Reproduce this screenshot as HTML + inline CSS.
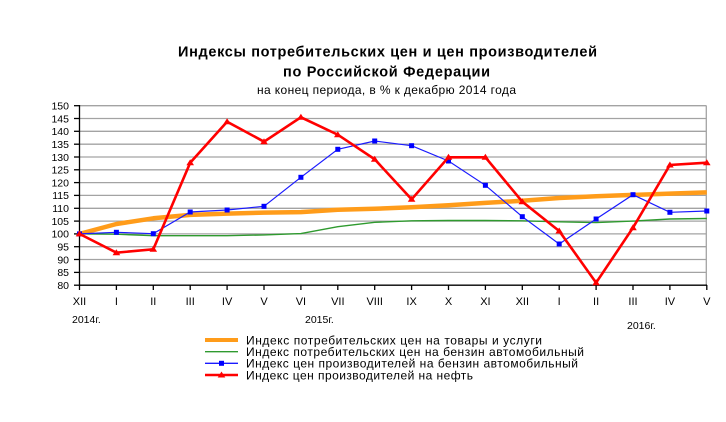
<!DOCTYPE html>
<html><head><meta charset="utf-8"><style>
html,body{margin:0;padding:0;background:#fff;}
svg{display:block;font-family:"Liberation Sans",Arial,sans-serif;}
</style></head><body>
<svg width="726" height="422" viewBox="0 0 726 422" xmlns="http://www.w3.org/2000/svg">
<rect width="726" height="422" fill="#fff"/>
<!-- titles -->
<text x="178" y="56.5" font-size="14.5" font-weight="bold" textLength="419" lengthAdjust="spacing" fill="#000">Индексы потребительских цен и цен производителей</text>
<text x="283" y="76.5" font-size="14.5" font-weight="bold" textLength="207" lengthAdjust="spacing" fill="#000">по Российской Федерации</text>
<text x="257" y="94" font-size="12" textLength="259" lengthAdjust="spacing" fill="#000">на конец периода, в % к декабрю 2014 года</text>

<!-- gridlines -->
<g stroke="#a3a3a3" stroke-width="1.3">
<line x1="79.5" y1="105.7" x2="706.5" y2="105.7"/>
<line x1="79.5" y1="118.5" x2="706.5" y2="118.5"/>
<line x1="79.5" y1="131.3" x2="706.5" y2="131.3"/>
<line x1="79.5" y1="144.2" x2="706.5" y2="144.2"/>
<line x1="79.5" y1="157.0" x2="706.5" y2="157.0"/>
<line x1="79.5" y1="169.8" x2="706.5" y2="169.8"/>
<line x1="79.5" y1="182.6" x2="706.5" y2="182.6"/>
<line x1="79.5" y1="195.4" x2="706.5" y2="195.4"/>
<line x1="79.5" y1="208.3" x2="706.5" y2="208.3"/>
<line x1="79.5" y1="221.1" x2="706.5" y2="221.1"/>
<line x1="79.5" y1="233.9" x2="706.5" y2="233.9"/>
<line x1="79.5" y1="246.7" x2="706.5" y2="246.7"/>
<line x1="79.5" y1="259.5" x2="706.5" y2="259.5"/>
<line x1="79.5" y1="272.4" x2="706.5" y2="272.4"/>
<line x1="706.3" y1="105.7" x2="706.3" y2="285.2"/>
</g>
<!-- axes -->
<g stroke="#000" stroke-width="1.3">
<line x1="79.5" y1="105" x2="79.5" y2="285.2"/>
<line x1="79" y1="285.2" x2="707" y2="285.2"/>
<line x1="74" y1="105.7" x2="79.5" y2="105.7"/>
<line x1="74" y1="118.5" x2="79.5" y2="118.5"/>
<line x1="74" y1="131.3" x2="79.5" y2="131.3"/>
<line x1="74" y1="144.2" x2="79.5" y2="144.2"/>
<line x1="74" y1="157.0" x2="79.5" y2="157.0"/>
<line x1="74" y1="169.8" x2="79.5" y2="169.8"/>
<line x1="74" y1="182.6" x2="79.5" y2="182.6"/>
<line x1="74" y1="195.4" x2="79.5" y2="195.4"/>
<line x1="74" y1="208.3" x2="79.5" y2="208.3"/>
<line x1="74" y1="221.1" x2="79.5" y2="221.1"/>
<line x1="74" y1="233.9" x2="79.5" y2="233.9"/>
<line x1="74" y1="246.7" x2="79.5" y2="246.7"/>
<line x1="74" y1="259.5" x2="79.5" y2="259.5"/>
<line x1="74" y1="272.4" x2="79.5" y2="272.4"/>
<line x1="74" y1="285.2" x2="79.5" y2="285.2"/>
<line x1="79.5" y1="285" x2="79.5" y2="290"/>
<line x1="116.4" y1="285" x2="116.4" y2="290"/>
<line x1="153.3" y1="285" x2="153.3" y2="290"/>
<line x1="190.2" y1="285" x2="190.2" y2="290"/>
<line x1="227.1" y1="285" x2="227.1" y2="290"/>
<line x1="264.0" y1="285" x2="264.0" y2="290"/>
<line x1="300.9" y1="285" x2="300.9" y2="290"/>
<line x1="337.8" y1="285" x2="337.8" y2="290"/>
<line x1="374.7" y1="285" x2="374.7" y2="290"/>
<line x1="411.6" y1="285" x2="411.6" y2="290"/>
<line x1="448.5" y1="285" x2="448.5" y2="290"/>
<line x1="485.4" y1="285" x2="485.4" y2="290"/>
<line x1="522.3" y1="285" x2="522.3" y2="290"/>
<line x1="559.2" y1="285" x2="559.2" y2="290"/>
<line x1="596.1" y1="285" x2="596.1" y2="290"/>
<line x1="633.0" y1="285" x2="633.0" y2="290"/>
<line x1="669.9" y1="285" x2="669.9" y2="290"/>
<line x1="706.8" y1="285" x2="706.8" y2="290"/>
</g>
<!-- y labels -->
<g font-size="10.5" text-anchor="end" fill="#000">
<text x="69" y="109.5">150</text>
<text x="69" y="122.3">145</text>
<text x="69" y="135.1">140</text>
<text x="69" y="148.0">135</text>
<text x="69" y="160.8">130</text>
<text x="69" y="173.6">125</text>
<text x="69" y="186.4">120</text>
<text x="69" y="199.2">115</text>
<text x="69" y="212.1">110</text>
<text x="69" y="224.9">105</text>
<text x="69" y="237.7">100</text>
<text x="69" y="250.5">95</text>
<text x="69" y="263.3">90</text>
<text x="69" y="276.2">85</text>
<text x="69" y="289.0">80</text>
</g>
<!-- x labels -->
<g font-size="11" text-anchor="middle" fill="#000">
<text x="79.5" y="305">XII</text>
<text x="116.4" y="305">I</text>
<text x="153.3" y="305">II</text>
<text x="190.2" y="305">III</text>
<text x="227.1" y="305">IV</text>
<text x="264.0" y="305">V</text>
<text x="300.9" y="305">VI</text>
<text x="337.8" y="305">VII</text>
<text x="374.7" y="305">VIII</text>
<text x="411.6" y="305">IX</text>
<text x="448.5" y="305">X</text>
<text x="485.4" y="305">XI</text>
<text x="522.3" y="305">XII</text>
<text x="559.2" y="305">I</text>
<text x="596.1" y="305">II</text>
<text x="633.0" y="305">III</text>
<text x="669.9" y="305">IV</text>
<text x="706.8" y="305">V</text>
</g>
<g font-size="10.5" fill="#000">
<text x="72" y="323">2014г.</text>
<text x="305" y="323">2015г.</text>
<text x="627" y="329">2016г.</text>
</g>

<!-- series: green -->
<polyline fill="none" stroke="#2f9a2f" stroke-width="1.4" points="79.5,233.9 116.4,234.2 153.3,235.7 190.2,235.7 227.1,235.7 264.0,234.9 300.9,233.6 337.8,226.7 374.7,222.3 411.6,220.8 448.5,220.5 485.4,220.5 522.3,220.8 559.2,221.8 596.1,222.6 633.0,221.1 669.9,219.0 706.8,218.5"/>
<!-- orange -->
<polyline fill="none" stroke="#ff9c1a" stroke-width="4.5" stroke-linejoin="round" points="79.5,233.9 116.4,224.0 153.3,218.3 190.2,214.9 227.1,213.6 264.0,212.6 300.9,212.1 337.8,209.8 374.7,208.8 411.6,207.2 448.5,205.2 485.4,202.9 522.3,200.8 559.2,198.0 596.1,196.2 633.0,194.9 669.9,193.6 706.8,192.4"/>
<!-- blue -->
<polyline fill="none" stroke="#1a1aff" stroke-width="1.2" points="79.5,233.9 116.4,232.3 153.3,233.7 190.2,212 227.1,210 264.0,206.3 300.9,177.3 337.8,149.3 374.7,141 411.6,145.7 448.5,161 485.4,185.3 522.3,216.7 559.2,244 596.1,219 633.0,194.7 669.9,212.3 706.8,211"/>
<g fill="#0000ff">
<rect x="77" y="231.4" width="5" height="5"/>
<rect x="113.9" y="229.8" width="5" height="5"/>
<rect x="150.8" y="231.2" width="5" height="5"/>
<rect x="187.7" y="209.5" width="5" height="5"/>
<rect x="224.6" y="207.5" width="5" height="5"/>
<rect x="261.5" y="203.8" width="5" height="5"/>
<rect x="298.4" y="174.8" width="5" height="5"/>
<rect x="335.3" y="146.8" width="5" height="5"/>
<rect x="372.2" y="138.5" width="5" height="5"/>
<rect x="409.1" y="143.2" width="5" height="5"/>
<rect x="446" y="158.5" width="5" height="5"/>
<rect x="482.9" y="182.8" width="5" height="5"/>
<rect x="519.8" y="214.2" width="5" height="5"/>
<rect x="556.7" y="241.5" width="5" height="5"/>
<rect x="593.6" y="216.5" width="5" height="5"/>
<rect x="630.5" y="192.2" width="5" height="5"/>
<rect x="667.4" y="209.8" width="5" height="5"/>
<rect x="704.3" y="208.5" width="5" height="5"/>
</g>
<!-- red -->
<polyline fill="none" stroke="#ff0000" stroke-width="2.6" stroke-linejoin="miter" points="79.5,233.9 116.4,252.7 153.3,249.3 190.2,162.7 227.1,121.7 264.0,141.7 300.9,117.3 337.8,134.7 374.7,159.3 411.6,199.3 448.5,157.3 485.4,157.3 522.3,201.7 559.2,231 596.1,282.7 633.0,227.7 669.9,165 706.8,162.7"/>
<g fill="#ff0000">
<polygon points="79.5,230.4 83.3,236.4 75.7,236.4"/>
<polygon points="116.4,249.2 120.2,255.2 112.6,255.2"/>
<polygon points="153.3,245.8 157.1,251.8 149.5,251.8"/>
<polygon points="190.2,159.2 194,165.2 186.4,165.2"/>
<polygon points="227.1,118.2 230.9,124.2 223.3,124.2"/>
<polygon points="264.0,138.2 267.8,144.2 260.2,144.2"/>
<polygon points="300.9,113.8 304.7,119.8 297.1,119.8"/>
<polygon points="337.8,131.2 341.6,137.2 334,137.2"/>
<polygon points="374.7,155.8 378.5,161.8 370.9,161.8"/>
<polygon points="411.6,195.8 415.4,201.8 407.8,201.8"/>
<polygon points="448.5,153.8 452.3,159.8 444.7,159.8"/>
<polygon points="485.4,153.8 489.2,159.8 481.6,159.8"/>
<polygon points="522.3,198.2 526.1,204.2 518.5,204.2"/>
<polygon points="559.2,227.5 563,233.5 555.4,233.5"/>
<polygon points="596.1,279.2 599.9,285.2 592.3,285.2"/>
<polygon points="633.0,224.2 636.8,230.2 629.2,230.2"/>
<polygon points="669.9,161.5 673.7,167.5 666.1,167.5"/>
<polygon points="706.8,159.2 710.6,165.2 703,165.2"/>
</g>

<!-- legend -->
<line x1="205" y1="340" x2="238" y2="340" stroke="#ff9c1a" stroke-width="4"/>
<line x1="205" y1="351.7" x2="238" y2="351.7" stroke="#2f9a2f" stroke-width="1.3"/>
<line x1="205" y1="363.3" x2="238" y2="363.3" stroke="#1a1aff" stroke-width="1.3"/>
<rect x="219" y="360.8" width="5" height="5" fill="#0000ff"/>
<line x1="205" y1="375" x2="238" y2="375" stroke="#ff0000" stroke-width="2.4"/>
<polygon points="221.5,371.5 225.3,377.5 217.7,377.5" fill="#ff0000"/>
<g font-size="12" fill="#000">
<text x="246" y="344.3" textLength="296" lengthAdjust="spacing">Индекс потребительских цен на товары и услуги</text>
<text x="246" y="356.0" textLength="338" lengthAdjust="spacing">Индекс потребительских цен на бензин автомобильный</text>
<text x="246" y="367.6" textLength="332" lengthAdjust="spacing">Индекс цен производителей на бензин автомобильный</text>
<text x="246" y="379.3" textLength="227" lengthAdjust="spacing">Индекс цен производителей на нефть</text>
</g>
</svg>
</body></html>
